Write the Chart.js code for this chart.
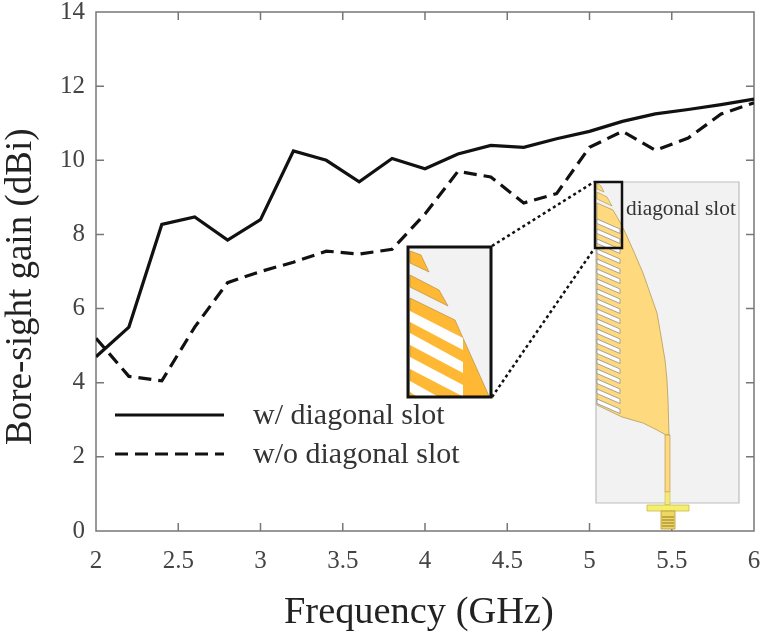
<!DOCTYPE html>
<html>
<head>
<meta charset="utf-8">
<style>
  html, body { margin: 0; padding: 0; background: #fff; }
  #wrap { width: 763px; height: 637px; }
</style>
<script src="https://cdn.jsdelivr.net/npm/chart.js@4/dist/chart.umd.min.js"></script>
</head>
<body>
<div id="wrap"><canvas id="gainChart" width="763" height="637"></canvas></div>
<script>
// --------------------------------------------------------------------
// DATA
// --------------------------------------------------------------------
const frequency = [2, 2.2, 2.4, 2.6, 2.8, 3, 3.2, 3.4, 3.6, 3.8, 4, 4.2, 4.4, 4.6, 4.8, 5, 5.2, 5.4, 5.6, 5.8, 6];
const gainWithSlot = [4.7, 5.5, 8.27, 8.47, 7.85, 8.4, 10.25, 10, 9.42, 10.05, 9.77, 10.17, 10.4, 10.35, 10.58, 10.78, 11.05, 11.25, 11.37, 11.5, 11.65];
const gainWithoutSlot = [5.2, 4.17, 4.05, 5.5, 6.7, 7, 7.25, 7.55, 7.47, 7.6, 8.55, 9.7, 9.55, 8.85, 9.1, 10.35, 10.78, 10.27, 10.6, 11.25, 11.55];
const xTicks = [2, 2.5, 3, 3.5, 4, 4.5, 5, 5.5, 6];
const yTicks = [0, 2, 4, 6, 8, 10, 12, 14];
const seriesNames = ["w/ diagonal slot", "w/o diagonal slot"];
const xTitle = "Frequency (GHz)";
const yTitle = "Bore-sight gain (dBi)";

const SERIF = "'Liberation Serif', serif";
const LINE_DASH = [13, 7];

function poly(ctx, pts, fill, stroke, lw) {
    ctx.beginPath();
    pts.forEach((p, i) => i ? ctx.lineTo(p[0], p[1]) : ctx.moveTo(p[0], p[1]));
    ctx.closePath();
    if (fill) { ctx.fillStyle = fill; ctx.fill(); }
    if (stroke) { ctx.strokeStyle = stroke; ctx.lineWidth = lw || 1; ctx.stroke(); }
}

// --------------------------------------------------------------------
// FRAME: box with inward ticks on all four sides, axis titles
// --------------------------------------------------------------------
const framePlugin = {
    id: "frame",
    beforeDatasetsDraw(chart) {
        const { ctx, chartArea: a, scales: { x, y } } = chart;
        const len = 8;
        ctx.save();
        ctx.strokeStyle = "#777";
        ctx.lineWidth = 1.5;
        ctx.strokeRect(a.left, a.top, a.right - a.left, a.bottom - a.top);
        ctx.beginPath();
        xTicks.slice(1, -1).forEach(v => {
            const px = x.getPixelForValue(v);
            ctx.moveTo(px, a.bottom); ctx.lineTo(px, a.bottom - len);
            ctx.moveTo(px, a.top); ctx.lineTo(px, a.top + len);
        });
        yTicks.slice(1, -1).forEach(v => {
            const py = y.getPixelForValue(v);
            ctx.moveTo(a.left, py); ctx.lineTo(a.left + len, py);
            ctx.moveTo(a.right, py); ctx.lineTo(a.right - len, py);
        });
        ctx.stroke();

        // titles sit off centre in the original, so no built-in axis title here
        ctx.fillStyle = "#222";
        ctx.textAlign = "left";
        ctx.textBaseline = "alphabetic";
        ctx.font = "38.4px " + SERIF;
        ctx.fillText(xTitle, 284, 623);
        ctx.translate(31, 445);
        ctx.rotate(-Math.PI / 2);
        ctx.font = "37px " + SERIF;
        ctx.fillText(yTitle, 0, 0);
        ctx.restore();
    }
};

// --------------------------------------------------------------------
// LEGEND (inside the plot, no box)
// --------------------------------------------------------------------
const legendPlugin = {
    id: "innerLegend",
    afterDatasetsDraw(chart) {
        const { ctx } = chart;
        const rows = [415, 454];
        ctx.save();
        chart.data.datasets.forEach((ds, i) => {
            ctx.beginPath();
            ctx.setLineDash(ds.borderDash || []);
            ctx.strokeStyle = ds.borderColor;
            ctx.lineWidth = ds.borderWidth;
            ctx.moveTo(115, rows[i]);
            ctx.lineTo(224, rows[i]);
            ctx.stroke();
            ctx.fillStyle = "#333";
            ctx.font = "30px " + SERIF;
            ctx.textBaseline = "middle";
            ctx.textAlign = "left";
            ctx.fillText(ds.label, 253, rows[i] + 1);
        });
        ctx.restore();
    }
};

// --------------------------------------------------------------------
// ANTENNA INSETS (decoration, fixed on the page)
// --------------------------------------------------------------------
const antennaPlugin = {
    id: "antenna",
    afterDatasetsDraw(chart) {
        const { ctx } = chart;
        ctx.save();

        // substrate panel
        poly(ctx, [[596, 182], [739, 182], [739, 503], [596, 503]], "#f2f2f2", "#bdbdbd", 1.2);

        // patch outline
        const patch = "#ffd97e", edge = "#a8924f";
        poly(ctx, [[597, 183], [601, 186], [604, 192], [597, 189]], patch, edge, 0.6);
        poly(ctx, [[597, 192], [607, 197], [612, 206], [597, 199]], patch, edge, 0.6);
        poly(ctx, [
            [597, 203], [613, 210], [620, 222], [625, 232], [634, 252], [643, 273], [650, 293], [657, 313],
            [661, 336], [665, 360], [667, 380], [668, 400], [669, 435], [666, 435], [657, 430],
            [643, 423], [622, 417], [597, 405]
        ], patch, edge, 0.7);

        // comb of slots along the left edge
        for (let k = 0; k < 19; k++) {
            const y0 = 219 + k * 10;
            poly(ctx, [[597, y0], [620, y0 + 10], [620, y0 + 14.5], [597, y0 + 4.5]], "#fff", "#8f8f8f", 0.8);
        }

        // feed line and connector
        poly(ctx, [[665, 435], [670, 435], [670, 492], [665, 492]], "#ffd97e", "#a8924f", 0.6);
        poly(ctx, [[665, 492], [670, 492], [670, 505], [665, 505]], "#f4e97a", "#c9bb55", 0.6);
        poly(ctx, [[647, 505], [689, 505], [689, 511], [647, 511]], "#f6ef6e", "#c4bb4c", 0.8);
        poly(ctx, [[661, 511], [675, 511], [675, 529], [661, 529]], "#f0d860", "#b59a3a", 0.8);
        ctx.strokeStyle = "#8f7a2c";
        ctx.lineWidth = 1;
        ctx.beginPath();
        [517, 520, 523, 526].forEach(yy => { ctx.moveTo(662, yy); ctx.lineTo(674, yy); });
        ctx.stroke();

        // enlarged view
        const orange = "#ffb834", oe = "#a9853a";
        poly(ctx, [[408, 247], [491, 247], [491, 397], [408, 397]], "#f2f2f2");
        poly(ctx, [[410, 251], [421, 255], [429, 272], [410, 263]], orange, oe, 0.6);
        poly(ctx, [[410, 275], [439, 290], [448, 306], [410, 287]], orange, oe, 0.6);
        poly(ctx, [[410, 298], [455, 320], [463, 338], [489, 396], [410, 396]], orange, oe, 0.6);
        poly(ctx, [[410, 311], [463, 338], [463, 350], [410, 322]], "#fff");
        poly(ctx, [[410, 333], [463, 362], [463, 373], [410, 345]], "#fff");
        poly(ctx, [[410, 357], [463, 385], [463, 396], [462, 396], [410, 369]], "#fff");
        poly(ctx, [[410, 381], [437, 396], [416, 396], [410, 392]], "#fff");
        ctx.strokeStyle = "#111";
        ctx.lineWidth = 3;
        ctx.strokeRect(408, 247, 83, 150);

        // source box and the dotted links
        ctx.lineWidth = 2.5;
        ctx.strokeRect(595, 182, 27, 66);
        ctx.setLineDash([3, 3]);
        ctx.beginPath();
        ctx.moveTo(492, 246); ctx.lineTo(594, 182);
        ctx.moveTo(492, 397); ctx.lineTo(594, 249);
        ctx.stroke();
        ctx.setLineDash([]);

        ctx.fillStyle = "#333";
        ctx.font = "21.4px " + SERIF;
        ctx.textAlign = "left";
        ctx.textBaseline = "middle";
        ctx.fillText("diagonal slot", 626, 209);
        ctx.restore();
    }
};

// --------------------------------------------------------------------
// CHART
// --------------------------------------------------------------------
new Chart(document.getElementById("gainChart"), {
    type: "line",
    data: {
        datasets: [
            {
                label: seriesNames[0],
                data: frequency.map((f, i) => ({ x: f, y: gainWithSlot[i] })),
                borderColor: "#111",
                borderWidth: 3.2,
                pointRadius: 0,
                tension: 0
            },
            {
                label: seriesNames[1],
                data: frequency.map((f, i) => ({ x: f, y: gainWithoutSlot[i] })),
                borderColor: "#111",
                borderWidth: 3.2,
                borderDash: LINE_DASH,
                pointRadius: 0,
                tension: 0
            }
        ]
    },
    options: {
        responsive: false,
        animation: false,
        layout: { padding: { top: 12, right: 9, left: 0, bottom: 0 } },
        plugins: { legend: { display: false }, tooltip: { enabled: false } },
        scales: {
            x: {
                type: "linear",
                min: 2,
                max: 6,
                afterBuildTicks: s => { s.ticks = xTicks.map(v => ({ value: v })); },
                afterFit: s => { s.height = 106; s.paddingLeft = 0; s.paddingRight = 0; },
                grid: { display: false },
                border: { display: false },
                ticks: {
                    color: "#444",
                    font: { family: SERIF, size: 25 },
                    padding: 7,
                    maxRotation: 0,
                    callback: v => String(v)
                }
            },
            y: {
                min: 0,
                max: 14,
                afterBuildTicks: s => { s.ticks = yTicks.map(v => ({ value: v })); },
                afterFit: s => { s.width = 96; s.paddingTop = 0; s.paddingBottom = 0; },
                grid: { display: false },
                border: { display: false },
                ticks: {
                    color: "#444",
                    font: { family: SERIF, size: 25 },
                    padding: 3,
                    callback: v => String(v)
                }
            }
        }
    },
    plugins: [framePlugin, legendPlugin, antennaPlugin]
});
</script>
</body>
</html>
